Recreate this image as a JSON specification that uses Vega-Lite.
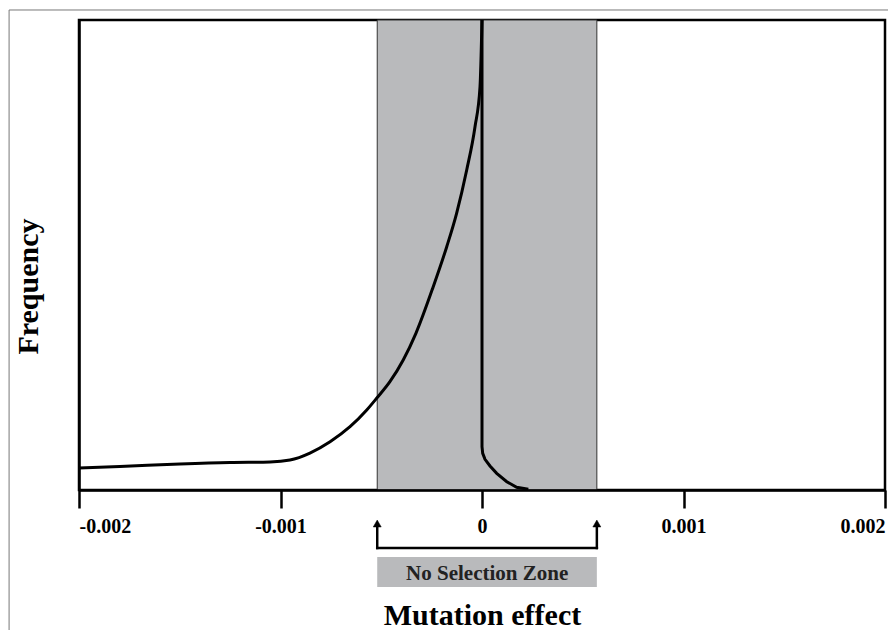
{
  "$schema": "https://vega.github.io/schema/vega-lite/v6.json",
  "width": 806,
  "height": 470,
  "autosize": {"type": "none"},
  "padding": {"left": 79, "top": 20, "right": 3, "bottom": 140},
  "background": "white",
  "config": {
    "view": {"stroke": "#000", "strokeWidth": 2.5},
    "font": "Liberation Serif"
  },
  "datasets": {
    "frame": [{"x": -0.002347, "x2": 0.00203, "y": 1.0213, "y2": -0.36}],
    "zone": [{"x": -0.00052, "x2": 0.00057, "y": 0, "y2": 1}],
    "zonebox": [{"x": -0.00052, "x2": 0.00057, "y": -0.1426, "y2": -0.2064}],
    "zonelabel": [{"x": 0.0000258, "y": -0.1915, "label": "No Selection Zone"}],
    "left": [
      {"x": -0.002, "f": 0.0468},
      {"x": -0.001797, "f": 0.05},
      {"x": -0.001499, "f": 0.0553},
      {"x": -0.001251, "f": 0.0585},
      {"x": -0.001052, "f": 0.0596},
      {"x": -0.000953, "f": 0.0638},
      {"x": -0.000854, "f": 0.0787},
      {"x": -0.000754, "f": 0.1028},
      {"x": -0.000655, "f": 0.1347},
      {"x": -0.000572, "f": 0.1702},
      {"x": -0.000523, "f": 0.1951},
      {"x": -0.000457, "f": 0.2304},
      {"x": -0.000391, "f": 0.2766},
      {"x": -0.000328, "f": 0.3334},
      {"x": -0.000242, "f": 0.4326},
      {"x": -0.000175, "f": 0.5177},
      {"x": -0.000126, "f": 0.5887},
      {"x": -0.0000759, "f": 0.6809},
      {"x": -0.0000347, "f": 0.773},
      {"x": -0.0000099, "f": 0.858},
      {"x": 0, "f": 1.0}
    ],
    "right": [
      {"o": 1, "x": 0, "f": 1.0},
      {"o": 2, "x": 0, "f": 0.0921},
      {"o": 3, "x": 0.0000035, "f": 0.0781},
      {"o": 4, "x": 0.0000149, "f": 0.0653},
      {"o": 5, "x": 0.0000397, "f": 0.0511},
      {"o": 6, "x": 0.000073, "f": 0.0355},
      {"o": 7, "x": 0.000123, "f": 0.0177},
      {"o": 8, "x": 0.000172, "f": 0.0057},
      {"o": 9, "x": 0.00023, "f": 0.0015}
    ],
    "bracket": [
      {"x": -0.00052, "x2": 0.00057, "y": -0.1234, "y2": -0.1234},
      {"x": -0.00052, "x2": -0.00052, "y": -0.1234, "y2": -0.078},
      {"x": 0.00057, "x2": 0.00057, "y": -0.1234, "y2": -0.078}
    ],
    "arrows": [
      {"x": -0.00052, "y": -0.0713},
      {"x": 0.00057, "y": -0.0713}
    ]
  },
  "layer": [
    {
      "data": {"name": "frame"},
      "mark": {"type": "rect", "fill": null, "fillOpacity": 0, "stroke": "#777", "strokeWidth": 1},
      "encoding": {
        "x": {"field": "x", "type": "quantitative"},
        "x2": {"field": "x2"},
        "y": {"field": "y", "type": "quantitative"},
        "y2": {"field": "y2"}
      }
    },
    {
      "data": {"name": "zone"},
      "mark": {"type": "rect", "fill": "#b9babc", "stroke": "#333", "strokeWidth": 1},
      "encoding": {
        "x": {
          "field": "x", "type": "quantitative",
          "scale": {"domain": [-0.002, 0.002], "nice": false, "zero": false},
          "axis": {
            "values": [-0.002, -0.001, 0, 0.001, 0.002],
            "labelExpr": "datum.value < 0 ? '-' + format(-datum.value, '.3f') : (datum.value == 0 ? '0' : format(datum.value, '.3f'))",
            "grid": false,
            "zindex": 1,
            "domainColor": "#000",
            "domainWidth": 2.5,
            "tickColor": "#000",
            "tickWidth": 2.5,
            "tickSize": 18,
            "labelFont": "Liberation Serif",
            "labelFontWeight": "bold",
            "labelFontSize": 20,
            "labelColor": "#000",
            "labelPadding": 8,
            "labelFlush": true,
            "title": "Mutation effect",
            "titleFont": "Liberation Serif",
            "titleFontWeight": "bold",
            "titleFontSize": 30,
            "titleColor": "#000",
            "titleBaseline": "alphabetic",
            "titleX": 403,
            "titleY": 134
          }
        },
        "x2": {"field": "x2"},
        "y": {
          "field": "y", "type": "quantitative",
          "scale": {"domain": [0, 1], "nice": false, "zero": false},
          "axis": {
            "grid": false,
            "ticks": false,
            "labels": false,
            "zindex": 1,
            "domainColor": "#000",
            "domainWidth": 2.5,
            "title": "Frequency",
            "titleFont": "Liberation Serif",
            "titleFontWeight": "bold",
            "titleFontSize": 30,
            "titleColor": "#000",
            "titleAngle": 270,
            "titleAlign": "center",
            "titleBaseline": "alphabetic",
            "titleX": -41.5,
            "titleY": 266
          }
        },
        "y2": {"field": "y2"}
      }
    },
    {
      "data": {"name": "left"},
      "mark": {"type": "line", "color": "#000", "strokeWidth": 3, "interpolate": "monotone"},
      "encoding": {
        "x": {"field": "x", "type": "quantitative"},
        "y": {"field": "f", "type": "quantitative"}
      }
    },
    {
      "data": {"name": "right"},
      "mark": {"type": "line", "color": "#000", "strokeWidth": 3, "interpolate": "linear"},
      "encoding": {
        "x": {"field": "x", "type": "quantitative"},
        "y": {"field": "f", "type": "quantitative"},
        "order": {"field": "o", "type": "quantitative"}
      }
    },
    {
      "data": {"name": "bracket"},
      "mark": {"type": "rule", "color": "#000", "strokeWidth": 2.5, "strokeCap": "square"},
      "encoding": {
        "x": {"field": "x", "type": "quantitative"},
        "x2": {"field": "x2"},
        "y": {"field": "y", "type": "quantitative"},
        "y2": {"field": "y2"}
      }
    },
    {
      "data": {"name": "arrows"},
      "mark": {"type": "point", "shape": "triangle-up", "filled": true, "fill": "#000", "stroke": "#000", "strokeWidth": 0.5, "size": 64, "opacity": 1},
      "encoding": {
        "x": {"field": "x", "type": "quantitative"},
        "y": {"field": "y", "type": "quantitative"}
      }
    },
    {
      "data": {"name": "zonebox"},
      "mark": {"type": "rect", "fill": "#b9babc"},
      "encoding": {
        "x": {"field": "x", "type": "quantitative"},
        "x2": {"field": "x2"},
        "y": {"field": "y", "type": "quantitative"},
        "y2": {"field": "y2"}
      }
    },
    {
      "data": {"name": "zonelabel"},
      "mark": {"type": "text", "font": "Liberation Serif", "fontWeight": "bold", "fontSize": 21, "color": "#222", "align": "center", "baseline": "alphabetic"},
      "encoding": {
        "x": {"field": "x", "type": "quantitative"},
        "y": {"field": "y", "type": "quantitative"},
        "text": {"field": "label"}
      }
    }
  ]
}
